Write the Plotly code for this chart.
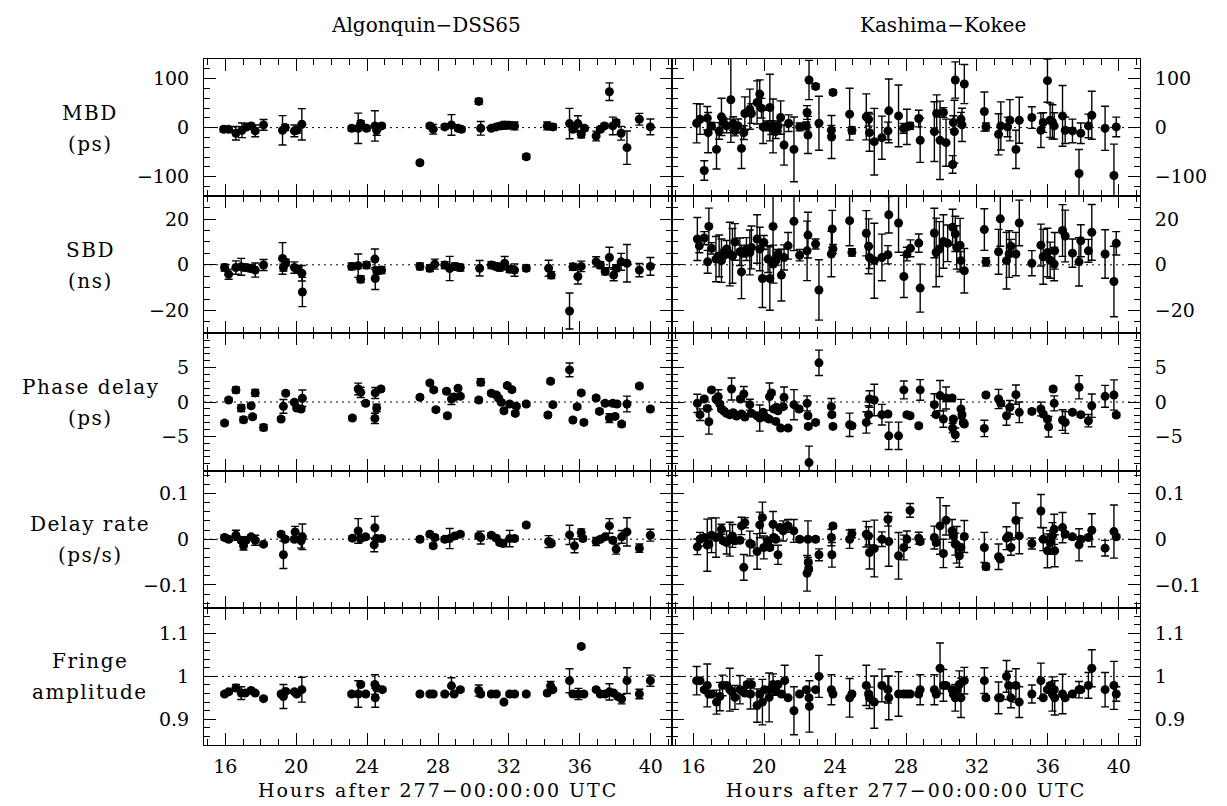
import plotly.graph_objects as go
from plotly.subplots import make_subplots

# ---------------- data (hours after 277-00:00:00 UTC) ----------------
# MBD (ps)
mbd_alg_t = [15.91,16.19,16.60,16.94,17.22,17.46,17.69,18.16,19.23,19.38,19.90,20.03,20.32,23.13,23.50,23.64,23.97,24.44,24.54,24.82,26.98,27.54,27.73,28.38,28.76,29.13,29.32,30.30,30.41,31.01,31.29,31.53,31.76,32.04,32.32,32.98,34.16,34.48,35.42,35.61,35.89,36.08,36.26,36.92,37.16,37.39,37.67,37.86,38.05,38.33,38.66,39.36,39.98]
mbd_alg_v = [-3.4,-3.4,-11.6,-5.5,1.4,3.4,-6.8,5.5,-5.5,0,-6.8,-5.5,6.8,-1.4,-1.4,8.2,-1.4,3.4,-5.5,3.4,-71.8,3.4,-3.4,1.4,5.5,-1.4,-3.4,53.4,-1.4,-1.4,1.4,3.4,4.8,4.8,3.4,-59.5,3.4,1.4,8.2,-3.4,8.2,-13.7,-1.4,-17.1,-3.4,3.4,73.2,3.4,10.3,-11.6,-41,17.1,1.4]
mbd_alg_e = [5,4,13.7,15,5,5,12,11,30,6,12,6,32,5,31,6,5,31,10,5,4,5,10,5,21,5,5,6,14,4,5,6,8,6,8,5,8,6,31,6,16,7,5,10,5,5,18,18,6,14,34,12,16]

mbd_kas_t = [16.19,16.38,16.62,16.79,16.84,17.03,17.31,17.46,17.59,17.69,
             17.88,18.12,18.25,18.35,18.53,18.72,18.85,18.91,19.19,19.28,
             19.60,19.75,19.85,19.94,20.13,20.32,20.40,20.50,20.65,20.78,
             20.93,21.12,21.38,21.68,22.00,22.38,22.42,22.47,22.53,22.90,
             23.09,23.79,23.80,23.88,24.82,24.95,25.76,25.89,25.94,26.21,
             26.64,26.98,27.03,27.58,27.86,28.05,28.23,28.72,28.80,29.60,
             29.73,29.92,30.11,30.26,30.63,30.67,30.73,30.78,31.10,31.16,
             31.29,32.42,32.51,33.22,33.35,33.73,33.86,34.20,34.39,35.10,
             35.61,35.74,35.98,36.13,36.26,36.36,36.83,36.98,37.39,37.76,
             37.86,38.29,38.48,39.23,39.73,39.86]
mbd_kas_v = [8.9,17.1,-87.6,19.2,-10.3,3.4,-44.5,-6.8,21.9,10.3,
             3.4,56.8,8.2,-6.8,3.4,-42.4,-10.3,28.7,37.6,28.7,
             51.3,68.4,39.7,1.4,3.4,41,0,3.4,-8.2,3.4,
             20.5,-35.6,8.9,-44.5,1.4,3.4,30.8,-15.0,97.1,84.1,
             8.9,-5.5,-19.2,71.8,27.4,-5.5,21.9,17.1,-10.3,-28.7,
             -20.5,-6.8,34.2,23.9,-1.4,1.4,3.4,18.5,-26,-8.2,
             28.7,-26,30.8,-30.8,-75.2,10.3,-8.2,97.1,17.1,5.5,
             88.9,32.8,1.4,-13.7,3.4,1.4,15.0,-44.5,15.0,20.5,
             -5.5,10.3,95.8,15.0,11.6,3.4,23.9,-5.5,-6.8,-93.7,
             -11.6,3.4,25.3,-1.4,-97.8,1.4]
mbd_kas_e = [40,31,20,24,41,7,40,17,38,10,
             14,87,14,10,14,41,14,34,41,20,
             44,29,20,34,10,68,14,55,14,10,
             34,41,17,66,8,8,14,38,40,5,
             55,10,44,5,53,7,47,14,38,68,
             44,18,65,63,10,36,7,17,45,61,
             38,80,10,48,18,14,64,37,14,34,
             40,40,8,42,49,20,42,39,47,22,
             35,20,44,35,35,27,62,27,24,49,
             21,24,49,45,64,20]

# SBD (ns)
sbd_alg_t = [15.96,16.19,16.60,16.90,17.16,17.46,17.69,18.16,19.23,19.28,
             19.41,19.90,20.09,20.32,20.35,23.13,23.50,23.64,23.97,24.44,
             24.46,24.54,24.82,26.98,27.54,27.82,28.38,28.66,28.95,29.26,
             30.35,31.01,31.29,31.48,31.76,32.04,32.32,32.98,34.24,34.39,
             35.42,35.61,35.89,36.08,36.92,37.16,37.43,37.67,37.91,38.05,
             38.33,38.66,39.36,39.98]
sbd_alg_v = [-1.2,-4.1,-1.2,-0.9,-1.2,-1.6,-2.3,-0.1,2.8,-1.2,
             1.0,-1.2,-1.9,-3.7,-11.9,-0.7,-0.4,-6.3,-0.1,2.5,
             -6.0,-2.6,-2.3,-0.7,-1.5,0.3,-0.1,-1.6,-0.7,-1.2,
             -1.5,-0.1,-0.7,-1.2,0.7,-1.9,-2.3,-1.5,-1.5,-4.5,
             -20.2,-0.9,-5.1,-0.7,1.3,-0.1,-2.9,3.2,-4.5,-1.5,
             1.3,0.7,-2.3,-0.7]
sbd_alg_e = [1.5,2.2,2.9,3.7,1.5,1.5,3.1,2.4,6.9,1.5,
             1.5,2.5,1.5,3.4,6.4,1.5,5.1,1.5,1.5,4.4,
             4.8,1.5,1.5,1.5,1.5,2.2,1.5,5.3,1.5,1.5,
             3.4,1.5,1.5,1.5,2.9,1.5,2.7,1.2,3.5,1.5,
             7.9,1.5,3.3,2.3,2.2,1.5,1.5,4.5,2.5,1.5,
             3.7,8.2,2.9,3.9]

sbd_kas_t = [16.23,16.34,16.62,16.81,16.88,17.03,17.28,17.46,17.59,17.69,
             17.88,18.06,18.21,18.35,18.63,18.72,18.85,19.00,19.19,19.28,
             19.60,19.75,19.90,19.98,20.22,20.32,20.50,20.52,20.65,20.78,
             20.97,21.12,21.35,21.68,22.00,22.42,22.47,22.90,23.09,23.79,
             23.84,23.88,24.82,24.95,25.76,25.89,25.94,26.21,26.64,26.98,
             27.03,27.58,27.88,28.05,28.25,28.72,28.80,29.60,29.70,29.88,
             30.11,30.35,30.63,30.78,30.86,31.05,31.10,31.29,32.42,32.51,
             33.22,33.32,33.67,33.82,33.92,34.20,34.39,35.10,35.61,35.74,
             35.98,36.13,36.36,36.39,36.83,36.98,37.39,37.76,37.86,38.29,
             38.48,39.23,39.73,39.86]
sbd_kas_v = [11.3,8.3,11.7,1.3,16.8,7.2,2.5,3.9,1.8,4.7,
             6.9,4.7,3.9,10.0,5.7,-3.1,5.4,6.9,5.4,7.6,
             11.3,6.9,-6.0,9.8,2.5,-6.0,16.8,0.3,1.8,4.7,
             -4.5,3.2,8.3,19.0,4.2,6.1,13.0,9.1,-11.0,4.7,
             15.7,6.9,19.3,5.4,13.8,8.1,3.2,1.8,3.2,4.4,
             21.9,18.3,-5.1,4.7,7.2,9.5,-10.2,13.9,5.4,6.9,
             10.2,9.4,16.4,13.5,7.6,8.6,1.8,-2.6,15.4,1.3,
             5.7,20.1,1.8,4.7,8.1,4.7,18.3,0.7,8.6,3.5,
             5.4,2.0,0.3,6.1,15.0,12.6,5.1,1.3,10.5,6.1,
             14.2,4.7,-7.3,9.4]
sbd_kas_e = [9.4,3,2.8,5,8,2.5,9.9,9.1,9.5,2,
             3.7,13.9,12,8,6.0,11.7,2,5,9.8,9.4,
             10.6,9.5,12.7,3,5.9,13.9,14,8.3,2,2,
             11.3,5.5,5.8,12.8,2.5,13,10,2.2,13.2,9.9,
             8.1,2,11,1.6,9.9,12,4.8,16.4,10.2,4,
             8,12.8,9.2,3,3.7,4,10.5,10.8,15,12,
             11.7,8,7.9,7.7,9.5,11.7,4,9.7,9.1,1.8,
             9.8,12,12.4,10.2,3,9.5,10,5.5,9.2,12,
             10.6,7.9,7.3,8,11.3,11.3,6.2,10.6,7,5,
             12.2,10.6,15.4,5.1]

# Phase delay (ps)
phs_alg_t = [15.96,16.19,16.60,16.90,17.03,17.46,17.54,17.69,18.16,19.15,
             19.28,19.41,19.90,20.03,20.28,20.35,23.17,23.50,23.64,23.92,
             24.44,24.46,24.54,24.78,26.98,27.54,27.76,27.88,28.48,28.53,
             28.76,28.91,29.13,29.26,30.30,30.41,31.01,31.29,31.42,31.57,
             31.72,31.91,32.04,32.17,32.36,32.42,32.98,34.20,34.35,34.48,
             35.42,35.61,35.85,36.08,36.23,36.92,37.11,37.43,37.67,37.86,
             37.99,38.10,38.36,38.66,39.36,39.98]
phs_alg_v = [-3.07,0.29,1.76,-0.88,-2.59,-0.54,-2.15,1.32,-3.71,-2.49,
             -0.63,1.27,-0.05,-0.88,-1.02,0.54,-2.34,1.90,1.41,-0.2,
             -2.39,1.32,-0.88,1.90,0.68,2.78,1.76,-1.12,1.56,-2.0,
             0.44,0.68,2.0,0.83,0.29,2.88,1.27,1.02,0.54,-0.05,
             -1.27,2.39,-0.29,1.80,-1.66,-0.63,-0.29,-1.90,3.02,-0.39,
             4.68,-2.63,-0.68,1.32,-2.98,0.59,-1.37,-0.2,-2.34,-0.2,
             -2.10,-0.29,-3.22,-0.29,2.34,-1.02]
phs_alg_e = [0.3,0.3,0.45,0.5,0.4,0.3,0.3,0.5,0.45,0.3,
             1.0,0.3,0.3,0.3,0.3,1.2,0.3,0.85,0.75,0.3,
             0.75,0.8,0.55,0.3,0.3,0.3,0.3,0.3,0.3,0.3,
             0.8,0.3,0.3,0.3,0.3,0.5,0.3,0.3,0.3,0.3,
             0.3,0.3,0.3,0.3,0.3,0.3,0.3,0.3,0.3,0.3,
             1.0,0.3,0.3,0.3,0.3,0.3,0.3,0.3,0.65,0.3,
             0.3,0.3,0.35,1.15,0.3,0.3]

phs_kas_t = [16.23,16.38,16.62,16.79,16.88,17.03,17.28,17.41,17.50,17.59,
             17.73,17.88,18.06,18.16,18.25,18.44,18.66,18.72,18.85,18.91,
             19.19,19.28,19.60,19.75,19.94,20.09,20.28,20.30,20.41,20.54,
             20.65,20.69,20.78,20.93,21.07,21.12,21.35,21.68,21.97,22.42,
             22.47,22.49,22.53,22.90,23.09,23.79,23.82,23.88,24.82,24.95,
             25.76,25.89,25.94,26.21,26.64,26.98,27.03,27.58,27.88,28.05,
             28.23,28.72,28.80,29.60,29.70,29.92,30.11,30.26,30.60,30.63,
             30.67,30.78,31.10,31.16,31.23,31.29,32.42,32.51,33.22,33.35,
             33.67,33.86,34.20,34.39,35.10,35.61,35.74,35.98,36.04,36.30,
             36.36,36.83,36.98,37.39,37.76,37.86,38.29,38.48,39.23,39.73,
             39.86]
phs_kas_v = [-0.20,-1.85,0.44,-0.93,-2.88,1.76,0.44,0.78,-0.29,-1.02,
             -1.31,-1.66,-1.86,1.90,-1.55,-2.05,0.44,-1.75,1.17,-2.18,
             -0.39,-1.65,-2.0,-2.34,-1.51,-2.24,-2.49,0.78,1.32,-1.02,
             -2.83,-0.78,-1.27,-3.80,-0.68,0.68,-3.80,-0.39,-1.02,-0.2,
             -2.0,-3.56,-8.83,-2.98,5.71,-0.68,-1.85,-3.56,-3.32,-3.46,
             -2.98,-1.85,0.44,0.29,-1.85,-1.76,-4.93,-4.93,1.76,-1.85,
             -2.0,-3.46,1.76,-0.39,-1.85,0.93,-2.49,0.59,0.59,-3.80,
             -2.49,-4.78,-1.02,-1.85,-2.98,-3.22,-3.85,1.02,0.44,-0.2,
             -2.00,-0.78,1.07,-1.51,-1.37,-1.02,-1.76,-2.49,-3.61,1.90,
             -0.2,-2.63,-2.98,-1.51,2.15,-1.85,-2.73,-0.54,0.83,1.02,
             -1.90]
phs_kas_e = [1.34,0.85,0.3,0.3,1.8,0.3,0.3,1.0,0.3,0.3,
             0.3,0.3,0.3,1.6,0.3,0.3,0.3,0.3,1.1,0.3,
             0.8,0.3,0.3,1.9,0.3,0.3,0.3,2.0,0.3,0.3,
             0.3,0.3,0.3,0.3,0.3,1.5,0.3,2.2,0.3,1.1,
             0.3,0.3,2.4,0.3,1.85,1.2,0.3,0.3,1.7,0.3,
             1.55,1.3,1.2,2.3,1.5,0.3,2.0,2.0,1.3,0.3,
             0.3,0.3,1.5,1.6,0.3,2.2,1.2,1.6,0.3,0.7,
             0.3,1.0,1.4,0.3,0.3,0.3,1.2,0.3,1.4,0.3,
             1.4,1.0,1.4,1.5,0.3,1.0,0.3,0.3,1.5,0.3,
             1.1,1.5,1.6,0.3,1.7,0.3,0.9,1.7,1.6,2.2,
             0.3]

# Delay rate (ps/s)
rate_alg_t = [15.96,16.19,16.60,16.90,17.03,17.16,17.46,17.69,18.16,19.15,
              19.28,19.38,19.90,19.94,20.28,20.35,23.17,23.50,23.64,23.92,
              24.40,24.44,24.54,24.82,26.98,27.54,27.73,27.82,28.38,28.66,
              28.95,29.26,30.30,30.41,31.01,31.29,31.48,31.67,32.04,32.32,
              32.98,34.24,34.39,35.42,35.70,36.08,36.17,36.92,37.16,37.43,
              37.67,37.86,38.05,38.36,38.66,39.36,39.98]
rate_alg_v = [0.0036,0,0.0087,-0.0022,-0.0145,-0.0022,0.0051,-0.0022,-0.0109,0.0109,
              -0.034,0,0,0.016,-0.0036,0.0051,0.0022,0.018,0.0014,0.0051,
              -0.0123,0.025,0.0014,0.0014,0,0.011,-0.0145,0.0036,0,0.0014,
              0.0072,0.011,0.0072,0.0036,0.0087,0.0022,-0.0072,-0.0094,0.0014,0.0014,
              0.031,-0.0051,-0.0094,0.0094,-0.0145,0.0145,0.0014,-0.0051,0,0.0051,
              0.029,-0.0022,-0.0217,0.0051,0.016,-0.0196,0.0087]
rate_alg_e = [0.005,0.005,0.011,0.005,0.009,0.005,0.005,0.011,0.004,0.005,
              0.030,0.005,0.005,0.012,0.016,0.028,0.005,0.027,0.005,0.005,
              0.015,0.025,0.005,0.005,0.005,0.005,0.005,0.005,0.005,0.022,
              0.005,0.005,0.005,0.014,0.005,0.005,0.005,0.005,0.018,0.005,
              0.004,0.013,0.005,0.021,0.015,0.008,0.005,0.009,0.005,0.005,
              0.016,0.005,0.011,0.014,0.031,0.009,0.013]

rate_kas_t = [16.23,16.38,16.62,16.79,16.88,17.03,17.28,17.46,17.59,17.69,
              17.88,18.06,18.21,18.35,18.63,18.72,18.85,18.91,19.19,19.28,
              19.60,19.75,19.90,19.98,20.22,20.32,20.50,20.54,20.65,20.78,
              20.88,21.07,21.22,21.35,21.67,22.00,22.42,22.47,22.49,22.51,
              22.90,23.09,23.79,23.82,23.88,24.82,24.95,25.76,25.89,25.94,
              26.21,26.64,26.98,27.03,27.58,27.88,28.05,28.23,28.72,28.80,
              29.60,29.70,29.92,30.11,30.26,30.60,30.67,30.78,30.86,31.01,
              31.10,31.29,32.42,32.51,33.22,33.32,33.67,33.79,33.92,34.20,
              34.39,35.10,35.61,35.74,35.98,36.13,36.26,36.36,36.39,36.83,
              36.98,37.39,37.76,37.86,38.29,38.48,39.23,39.73,39.86]
rate_kas_v = [-0.0167,0,0.0036,-0.0130,-0.0109,0.0087,0.0036,0.0051,0.0217,-0.0036,
              -0.0072,0,0.0072,-0.0036,-0.0022,0.029,-0.0616,0.0362,-0.0094,-0.0109,
              -0.0268,0.0312,0.0471,-0.0181,-0.0036,-0.0181,0.0326,0.0036,0,-0.0341,
              0.0254,0.0181,0.0268,0.029,0.0181,0,-0.0745,0,-0.0507,-0.0652,
              0,-0.0341,0.0036,-0.0341,0.029,0,0.0123,0.0109,0.0072,-0.029,
              -0.0203,0,0.0435,-0.0051,-0.0362,-0.0181,0,0.063,0.0022,-0.0051,
              0.0036,-0.0072,0.029,-0.0312,0.0413,0.0181,0.0072,-0.0109,-0.0123,-0.0362,
              -0.0181,0.0058,-0.0181,-0.0601,-0.0384,-0.0435,0.0022,0.0072,-0.0181,0.0413,
              0.0072,-0.0094,0.0616,0,-0.0254,-0.0072,0.0072,0.0217,-0.0254,0.0254,
              0.0109,0.0051,-0.0123,0,0.0036,0.0196,-0.0196,0.0167,0.0051]
rate_kas_e = [0.017,0.015,0.005,0.057,0.005,0.038,0.043,0.005,0.011,0.005,
              0.025,0.037,0.025,0.005,0.005,0.019,0.028,0.011,0.027,0.005,
              0.039,0.028,0.034,0.025,0.005,0.005,0.028,0.005,0.005,0.021,
              0.005,0.022,0.005,0.014,0.025,0.005,0.039,0.040,0.005,0.005,
              0.005,0.013,0.018,0.027,0.005,0.02,0.009,0.028,0.02,0.036,
              0.062,0.016,0.015,0.054,0.051,0.027,0.018,0.015,0.013,0.005,
              0.025,0.005,0.062,0.031,0.032,0.025,0.005,0.024,0.040,0.025,
              0.005,0.035,0.033,0.007,0.028,0.005,0.025,0.005,0.017,0.038,
              0.039,0.012,0.036,0.025,0.037,0.026,0.029,0.033,0.035,0.033,
              0.005,0.005,0.035,0.005,0.005,0.036,0.017,0.058,0.005]

# Fringe amplitude
amp_alg_t = [15.96,16.19,16.60,16.90,17.13,17.46,17.69,18.16,19.15,19.28,
             19.41,19.90,20.03,20.32,23.13,23.50,23.64,23.92,24.44,24.46,
             24.54,24.86,26.98,27.54,27.73,28.38,28.76,28.91,29.26,30.30,
             30.41,31.01,31.29,31.72,32.04,32.32,32.98,34.16,34.35,34.48,
             35.42,35.61,35.92,36.08,36.23,36.92,37.16,37.43,37.67,37.91,
             38.14,38.36,38.66,39.36,39.98]
amp_alg_v = [0.959,0.964,0.973,0.961,0.961,0.967,0.961,0.948,0.959,0.953,
             0.965,0.964,0.959,0.969,0.959,0.959,0.981,0.959,0.981,0.950,
             0.973,0.969,0.959,0.959,0.959,0.959,0.978,0.959,0.969,0.967,
             0.959,0.959,0.959,0.940,0.959,0.959,0.959,0.961,0.978,0.969,
             0.990,0.959,0.959,1.07,0.959,0.969,0.959,0.959,0.964,0.961,
             0.953,0.947,0.990,0.959,0.990]
amp_alg_e = [0.004,0.004,0.008,0.015,0.004,0.004,0.004,0.004,0.004,0.028,
             0.004,0.004,0.004,0.029,0.004,0.031,0.004,0.004,0.023,0.022,
             0.004,0.004,0.004,0.004,0.004,0.004,0.019,0.004,0.004,0.013,
             0.004,0.004,0.004,0.004,0.004,0.004,0.004,0.004,0.010,0.004,
             0.028,0.004,0.013,0.004,0.004,0.004,0.004,0.004,0.019,0.004,
             0.004,0.011,0.030,0.011,0.013]

amp_kas_t = [16.19,16.38,16.62,16.79,16.88,17.03,17.31,17.50,17.65,17.88,
             18.06,18.16,18.35,18.63,18.78,18.91,19.04,19.23,19.28,19.60,
             19.75,19.90,20.03,20.28,20.32,20.50,20.65,20.78,20.97,21.16,
             21.35,21.68,22.00,22.38,22.53,22.55,22.90,23.09,23.79,23.88,
             24.82,24.95,25.76,25.89,25.94,26.21,26.64,26.98,27.03,27.58,
             27.86,28.05,28.23,28.72,28.80,29.60,29.70,29.92,30.11,30.26,
             30.60,30.67,30.78,30.86,31.01,31.10,31.29,32.42,32.51,33.22,
             33.32,33.67,33.79,33.92,34.20,34.39,35.10,35.61,35.74,35.98,
             36.13,36.26,36.36,36.39,36.83,36.98,37.39,37.76,37.86,38.29,
             38.48,39.23,39.73,39.86]
amp_kas_v = [0.990,0.990,0.969,0.979,0.959,0.959,0.940,0.953,0.979,0.979,
             0.969,0.965,0.951,0.969,0.967,0.961,0.981,0.959,0.981,0.932,
             0.959,0.940,0.969,0.951,0.969,0.981,0.967,0.981,0.959,0.990,
             0.950,0.920,0.959,0.969,0.950,0.930,0.969,1.0,0.969,0.959,
             0.950,0.959,0.979,0.959,0.950,0.940,0.979,0.969,0.950,0.959,
             0.959,0.959,0.959,0.959,0.969,0.969,0.959,1.019,0.979,0.979,
             0.969,0.959,0.950,0.969,0.981,0.950,0.990,0.990,0.950,0.950,
             0.950,1.0,0.979,0.950,0.979,0.940,0.959,0.990,0.950,0.969,
             0.979,0.959,0.969,0.950,0.959,0.950,0.959,0.969,0.969,0.979,
             1.019,0.969,0.979,0.959]
amp_kas_e = [0.033,0.004,0.004,0.050,0.004,0.004,0.028,0.033,0.024,0.004,
             0.050,0.004,0.028,0.033,0.004,0.004,0.004,0.035,0.004,0.039,
             0.004,0.053,0.004,0.057,0.004,0.025,0.004,0.004,0.004,0.036,
             0.004,0.056,0.004,0.004,0.004,0.060,0.004,0.049,0.035,0.004,
             0.045,0.004,0.047,0.004,0.025,0.061,0.038,0.031,0.051,0.052,
             0.004,0.004,0.004,0.004,0.035,0.035,0.004,0.059,0.037,0.004,
             0.004,0.004,0.031,0.004,0.032,0.046,0.031,0.030,0.005,0.037,
             0.004,0.037,0.033,0.023,0.039,0.036,0.021,0.041,0.004,0.004,
             0.004,0.04,0.004,0.040,0.046,0.004,0.004,0.019,0.004,0.03,
             0.043,0.040,0.056,0.017]

# labels / ticks
col_titles = ["Algonquin\u2212DSS65", "Kashima\u2212Kokee"]
row_labels = [("MBD", "(ps)"), ("SBD", "(ns)"), ("Phase delay", "(ps)"),
              ("Delay rate", "(ps/s)"), ("Fringe", "amplitude")]
x_title = "Hours after 277\u221200:00:00 UTC"
x_tickvals = [16, 20, 24, 28, 32, 36, 40]
x_ticktext = ["16", "20", "24", "28", "32", "36", "40"]
y_ranges = [[-140, 140], [-30, 30], [-10, 10], [-0.15, 0.15], [0.84, 1.16]]
y_tickvals = [[-100, 0, 100], [-20, 0, 20], [-5, 0, 5], [-0.1, 0, 0.1], [0.9, 1.0, 1.1]]
y_ticktext = [["\u2212100", "0", "100"], ["\u221220", "0", "20"], ["\u22125", "0", "5"],
              ["\u22120.1", "0", "0.1"], ["0.9", "1", "1.1"]]
y_minor = [20, 5, 1, 0.02, 0.02]
y_ref = [0, 0, 0, 0, 1]

# ---------------- figure ----------------
FONT = "DejaVu Serif"
fig = make_subplots(rows=5, cols=2, horizontal_spacing=0, vertical_spacing=0)

panels = [
    (1, 1, mbd_alg_t, mbd_alg_v, mbd_alg_e), (1, 2, mbd_kas_t, mbd_kas_v, mbd_kas_e),
    (2, 1, sbd_alg_t, sbd_alg_v, sbd_alg_e), (2, 2, sbd_kas_t, sbd_kas_v, sbd_kas_e),
    (3, 1, phs_alg_t, phs_alg_v, phs_alg_e), (3, 2, phs_kas_t, phs_kas_v, phs_kas_e),
    (4, 1, rate_alg_t, rate_alg_v, rate_alg_e), (4, 2, rate_kas_t, rate_kas_v, rate_kas_e),
    (5, 1, amp_alg_t, amp_alg_v, amp_alg_e), (5, 2, amp_kas_t, amp_kas_v, amp_kas_e),
]

shapes = []
for r, c, t, v, e in panels:
    fig.add_trace(go.Scatter(
        x=t, y=v, mode="markers",
        marker=dict(color="black", size=9, line=dict(width=0)),
        error_y=dict(type="data", array=e, visible=True, color="black",
                     thickness=1.4, width=4),
        showlegend=False, hoverinfo="skip"), row=r, col=c)
    idx = (r - 1) * 2 + c
    sfx = "" if idx == 1 else str(idx)
    shapes.append(dict(type="line", xref=f"x{sfx} domain", yref=f"y{sfx}",
                       x0=0, x1=1, y0=y_ref[r - 1], y1=y_ref[r - 1],
                       line=dict(color="black", width=1, dash="2px,4px"), layer="below"))

for r in range(1, 6):
    for c in (1, 2):
        fig.update_xaxes(
            row=r, col=c, range=[14.8, 41.2],
            tickmode="array", tickvals=x_tickvals, ticktext=x_ticktext,
            showticklabels=(r == 5),
            ticks="inside", ticklen=12, tickwidth=1.2, tickcolor="black",
            minor=dict(ticks="inside", ticklen=6, tickwidth=1, tickcolor="black",
                       tickmode="linear", tick0=0, dtick=1),
            showline=True, linecolor="black", linewidth=1.1, mirror="allticks",
            showgrid=False, zeroline=False, ticklabelstandoff=4,
            tickfont=dict(family=FONT, size=19, color="black"))
        fig.update_yaxes(
            row=r, col=c, range=y_ranges[r - 1],
            tickmode="array", tickvals=y_tickvals[r - 1], ticktext=y_ticktext[r - 1],
            side="left" if c == 1 else "right",
            ticks="inside", ticklen=12, tickwidth=1.2, tickcolor="black",
            minor=dict(ticks="inside", ticklen=6, tickwidth=1, tickcolor="black",
                       tickmode="linear", tick0=0, dtick=y_minor[r - 1]),
            showline=True, linecolor="black", linewidth=1.1, mirror="allticks",
            showgrid=False, zeroline=False, ticklabelstandoff=10,
            tickfont=dict(family=FONT, size=19, color="black"))

# page has an 8px body margin; compensate so the plot area sits at the reference pixels
OFF = 8
L, R, T, B = 204 - OFF, 87, 59 - OFF, 61
W, H = 1227 - OFF, 806 - OFF
pw, ph = W - L - R, H - T - B

def px_x(p):
    return (p - OFF - L) / pw

def px_y(p):
    return (H - B - (p - OFF)) / ph

annotations = []
for i, ttl in enumerate(col_titles):
    annotations.append(dict(text=ttl, x=px_x([426, 943][i]), y=px_y(25), xref="paper", yref="paper",
                            showarrow=False, xanchor="center", yanchor="middle",
                            font=dict(family=FONT, size=20, color="black")))
    annotations.append(dict(text=f'<span style="letter-spacing:2px">{x_title}</span>',
                            x=px_x([438, 906][i]), y=px_y(790), xref="paper", yref="paper",
                            showarrow=False, xanchor="center", yanchor="middle",
                            font=dict(family=FONT, size=19, color="black")))
for k, (l1, l2) in enumerate(row_labels):
    cy = 59 + 686 * (k + 0.5) / 5
    for j, txt in enumerate((l1, l2)):
        annotations.append(dict(text=f'<span style="letter-spacing:1.5px">{txt}</span>',
                                x=px_x(90), y=px_y(cy - 15 + 31 * j),
                                xref="paper", yref="paper", showarrow=False,
                                xanchor="center", yanchor="middle",
                                font=dict(family=FONT, size=20, color="black")))

fig.update_layout(
    width=W, height=H, margin=dict(l=L, r=R, t=T, b=B),
    paper_bgcolor="white", plot_bgcolor="white",
    shapes=shapes, annotations=annotations,
    font=dict(family=FONT, size=19, color="black"))

fig.write_html("out.html")
